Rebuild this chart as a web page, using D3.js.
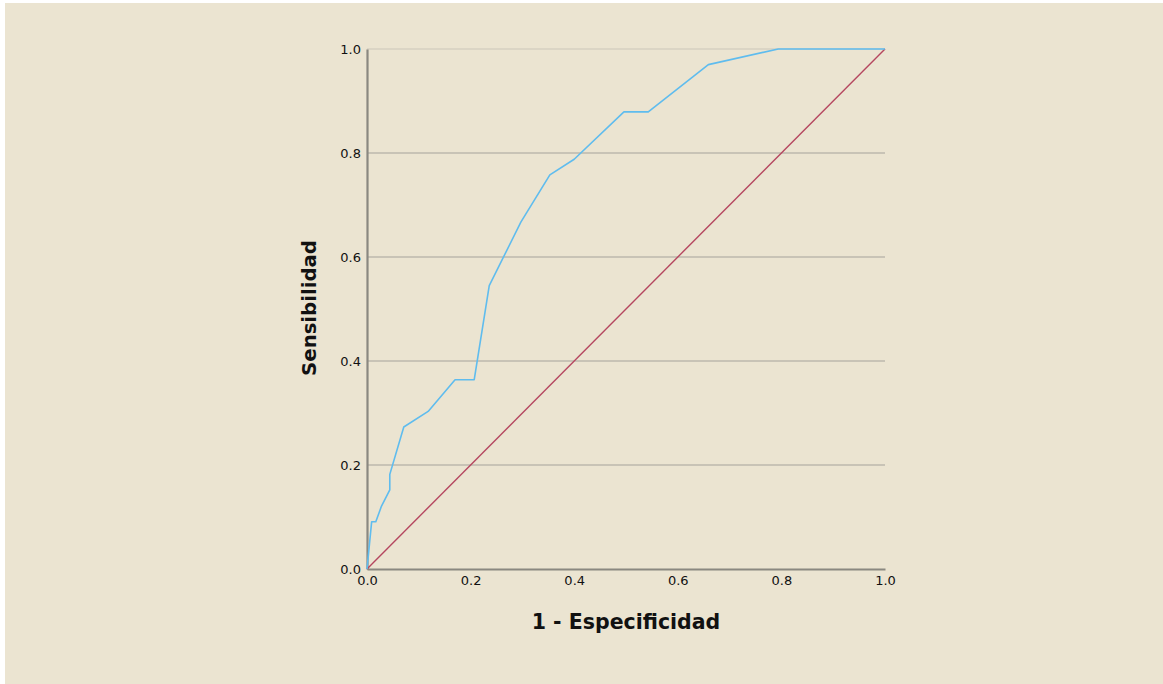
<!DOCTYPE html>
<html><head><meta charset="utf-8">
<script src="https://cdn.jsdelivr.net/npm/d3@7/dist/d3.min.js"></script>
<style>html,body{margin:0;padding:0;background:#fff;overflow:hidden}</style>
</head><body>
<svg id="chart" width="1163" height="684"></svg>
<script>
const rocX = [0, 0.003, 0.009, 0.017, 0.028, 0.044, 0.044, 0.071, 0.118, 0.170, 0.207, 0.236, 0.297, 0.353, 0.400, 0.496, 0.543, 0.659, 0.794, 1.0];
const rocY = [0, 0.030, 0.091, 0.091, 0.121, 0.152, 0.182, 0.273, 0.303, 0.364, 0.364, 0.545, 0.667, 0.758, 0.788, 0.879, 0.879, 0.970, 1.0, 1.0];
const refX = [0, 1];
const refY = [0, 1];
const ticks = [0, 0.2, 0.4, 0.6, 0.8, 1.0];
const xTitle = "1 - Especificidad";
const yTitle = "Sensibilidad";

const svg = d3.select("#chart");
svg.append("rect").attr("x",5).attr("y",3).attr("width",1158).attr("height",681).attr("fill","#ebe4d1");

const x = d3.scaleLinear().domain([0,1]).range([367,885]);
const y = d3.scaleLinear().domain([0,1]).range([569,49]);

// gridlines
svg.append("g").selectAll("line").data(ticks.filter(t=>t>0)).join("line")
  .attr("x1",x(0)).attr("x2",x(1)).attr("y1",d=>y(d)).attr("y2",d=>y(d))
  .attr("stroke",d=>d===1?"#d6d0c0":"#bcb8ad").attr("stroke-width",1.3);

// axes
const xa = svg.append("g").attr("transform",`translate(0,${y(0)})`)
  .call(d3.axisBottom(x).tickValues(ticks).tickFormat(d3.format(".1f")).tickSize(0).tickPadding(7));
const ya = svg.append("g").attr("transform",`translate(${x(0)},0)`)
  .call(d3.axisLeft(y).tickValues(ticks).tickFormat(d3.format(".1f")).tickSize(0).tickPadding(6));
[xa,ya].forEach(a=>{
  a.select(".domain").attr("stroke","#8a8880").attr("stroke-width",2.2);
  a.selectAll("text").attr("font-family","DejaVu Sans, sans-serif").attr("font-size",13).attr("fill","#111");
});

// lines
const line = d3.line().x(d=>x(d[0])).y(d=>y(d[1]));
svg.append("path").datum(refX.map((v,i)=>[v,refY[i]])).attr("d",line)
  .attr("fill","none").attr("stroke","#b5465f").attr("stroke-width",1.4);
svg.append("path").datum(rocX.map((v,i)=>[v,rocY[i]])).attr("d",line)
  .attr("fill","none").attr("stroke","#5fbcee").attr("stroke-width",1.6).attr("stroke-linejoin","round");

// titles
svg.append("text").attr("x",626).attr("y",629).attr("text-anchor","middle")
  .attr("font-family","DejaVu Sans, sans-serif").attr("font-weight","bold").attr("font-size",20.5)
  .attr("fill","#111").text(xTitle);
svg.append("text").attr("transform",`translate(316,308) rotate(-90)`).attr("text-anchor","middle")
  .attr("font-family","DejaVu Sans, sans-serif").attr("font-weight","bold").attr("font-size",19.7)
  .attr("fill","#111").text(yTitle);
</script>
</body></html>
